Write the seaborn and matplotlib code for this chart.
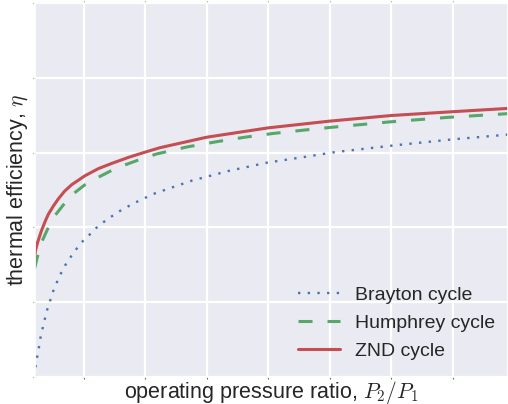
import numpy as np
import pandas as pd
import matplotlib
matplotlib.use("Agg")
import matplotlib.pyplot as plt
import seaborn as sns

# Data
brayton_x = [1.0, 1.07, 1.2, 1.34, 1.47, 1.64, 1.83, 2.02, 2.26, 2.5, 2.8, 3.13, 3.5,
             3.94, 4.4, 4.89, 5.46, 6.0, 6.65, 7.3, 7.95, 8.66, 9.36, 10.07, 10.8,
             13.8, 16.8, 19.9, 23.1, 25.4, 30.2, 34.9, 39.5]
brayton_y = [0.0, 0.026, 0.051, 0.076, 0.103, 0.128, 0.154, 0.179, 0.203, 0.228, 0.252,
             0.276, 0.299, 0.321, 0.342, 0.362, 0.38, 0.398, 0.415, 0.43, 0.444, 0.457,
             0.469, 0.48, 0.491, 0.525, 0.551, 0.573, 0.589, 0.601, 0.619, 0.635, 0.648]

humphrey_x = [1.0, 1.23, 1.585, 2.04, 2.67, 3.34, 4.16, 5.1, 6.19, 7.14, 8.36, 9.36,
              10.9, 13.4, 15.8, 18.1, 20.4, 22.9, 25.0, 29.9, 34.6, 39.5]
humphrey_y = [0.29, 0.321, 0.361, 0.394, 0.432, 0.46, 0.49, 0.514, 0.534, 0.55, 0.567,
              0.579, 0.596, 0.615, 0.629, 0.641, 0.651, 0.660, 0.667, 0.682, 0.694, 0.704]

znd_x = [1.0, 1.1, 1.23, 1.45, 1.585, 1.85, 2.12, 2.53, 2.93, 3.45, 4.02, 5.1, 6.19,
         7.28, 8.63, 9.98, 11.2, 15.0, 20.0, 25.0, 30.0, 34.9, 39.5]
znd_y = [0.321, 0.341, 0.358, 0.380, 0.393, 0.415, 0.435, 0.457, 0.476, 0.497, 0.514,
         0.538, 0.557, 0.571, 0.587, 0.601, 0.613, 0.641, 0.666, 0.684, 0.699, 0.709, 0.718]

labels = ["Brayton cycle", "Humphrey cycle", "ZND cycle"]
colors = ["#4C72B0", "#55A868", "#C44E52"]

x_ticks = [5, 10, 15, 20, 25, 30, 35]
y_ticks = [0.0, 0.2, 0.4, 0.6, 0.8, 1.0]

sns.set_theme(style="darkgrid", rc={"axes.facecolor": "#EAEAF2",
                                    "grid.color": "white", "grid.linewidth": 1.6})
plt.rcParams["font.family"] = ["Liberation Sans", "DejaVu Sans"]
plt.rcParams["mathtext.fontset"] = "cm"
plt.rcParams["text.color"] = ".15"
plt.rcParams["axes.labelcolor"] = ".15"

fig = plt.figure(figsize=(5.08, 4.04), dpi=100)
ax = fig.add_axes([0.068, 0.0668, 0.932, 0.926])

series = [(brayton_x, brayton_y), (humphrey_x, humphrey_y), (znd_x, znd_y)]
for (xs, ys), lab, col in zip(series, labels, colors):
    df = pd.DataFrame({"x": xs, "y": ys})
    sns.lineplot(data=df, x="x", y="y", ax=ax, color=col, label=lab,
                 sort=False, estimator=None, legend=False)

lines = ax.get_lines()
lines[0].set_linewidth(1.7)
lines[0].set_dashes((1.0, 3.1))
lines[1].set_linewidth(2.2)
lines[1].set_dashes((4.6, 4.9))
lines[2].set_linewidth(2.2)
for ln in lines[:3]:
    ln.set_solid_joinstyle("round")

ax.set_xlim(1, 39.5)
ax.set_ylim(0, 1.0)
ax.set_xticks(x_ticks)
ax.set_yticks(y_ticks)
ax.set_xticklabels([])
ax.set_yticklabels([])
ax.tick_params(length=1.5, width=0.8, color="#666666", top=True, right=True,
               bottom=True, left=True, direction="out", pad=0)

ax.set_xlabel(r"operating pressure ratio, $P_2/P_1$", fontsize=15.5)
ax.xaxis.set_label_coords(0.5, -0.004)
ax.set_ylabel(r"thermal efficiency, $\eta$", fontsize=15.5, labelpad=2)

leg = ax.legend(lines[:3], labels, loc="lower right", frameon=False, fontsize=14,
                handlelength=2.15, handletextpad=0.75, labelspacing=0.53,
                borderaxespad=0.5, bbox_to_anchor=(1.009, 0.0))

fig.savefig("out.png", dpi=100)
